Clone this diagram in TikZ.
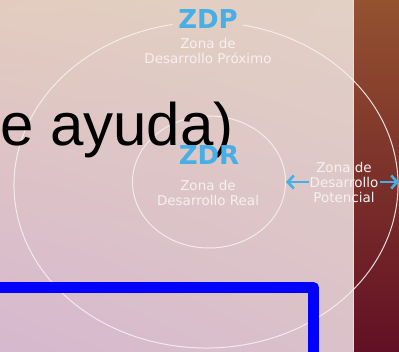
\documentclass[tikz,border=0pt]{standalone}
\usepackage{xcolor}
\usepackage{fontspec}
\usepackage{tikz}
\usetikzlibrary{arrows.meta, positioning, shadings}

\newfontfamily\bigfont{Liberation Sans}
\newfontfamily\zonefont{DejaVu Sans}

\definecolor{zblue}{RGB}{70,175,230}
\definecolor{zwhite}{RGB}{246,240,238}
\definecolor{bgTL}{RGB}{227,204,191}
\definecolor{bgTR}{RGB}{226,208,197}
\definecolor{bgBL}{RGB}{214,184,207}
\definecolor{bgBR}{RGB}{219,193,201}
\definecolor{stripeTop}{RGB}{148,82,48}
\definecolor{stripeMid}{RGB}{124,50,24}
\definecolor{stripeBot}{RGB}{98,16,36}

\begin{document}
\begin{tikzpicture}[
    x=1pt, y=-1pt,
    ring/.style={draw=zwhite, line width=1pt, opacity=0.9},
    zname/.style={text=zblue, font=\zonefont\bfseries\fontsize{26}{28}\selectfont, inner sep=0pt},
    zlabel/.style={text=zwhite, align=center, inner sep=1pt, font=\zonefont\fontsize{13.5}{15}\selectfont},
    arrow/.style={-{Straight Barb[length=6pt, width=13pt]}, zblue, line width=2.6pt}
]
\useasboundingbox (0,0) rectangle (399,351);
\clip (0,0) rectangle (399,351);

% Background
\shade[upper left=bgTL, upper right=bgTR, lower left=bgBL, lower right=bgBR] (0,0) rectangle (354,351);
\shade[top color=stripeTop, middle color=stripeMid, bottom color=stripeBot] (354,0) rectangle (399,351);
\draw[bgTR!70!white, line width=1pt] (353.5,0) -- (353.5,351);

% Zones
\coordinate (outerc) at (206,185);
\coordinate (innerc) at (209,182);
\draw[ring] ([shift={(-79:192 and 163)}]outerc) arc[start angle=-79, end angle=260, x radius=192, y radius=163];
\draw[ring] (innerc) ellipse[x radius=76.5, y radius=66];

% Text
\node[anchor=base west, inner sep=0pt, font=\bigfont\fontsize{60}{64}\selectfont] (ayuda) at (0,145) {e ayuda)};

% Nodes
\node[zname] (zdp) at (208,19) {ZDP};
\node[zlabel] (zdplabel) at (208,50.5) {Zona de\\Desarrollo Próximo};
\node[zname] (zdr) at (209,155) {ZDR};
\node[zlabel] (zdrlabel) at (208,192.5) {Zona de\\Desarrollo Real};
\node[zlabel] (zpot) at (344,182) {Zona de\\Desarrollo\\Potencial};

\coordinate (innertip) at (286,182);
\coordinate (outertip) at (399,182);
\draw[arrow] (zpot.west) -- (innertip);
\draw[arrow] (zpot.east) -- (outertip);

% Box
\draw[blue, line width=11pt, line join=round] (-10,287.5) -| (313.5,370);
\end{tikzpicture}
\end{document}
